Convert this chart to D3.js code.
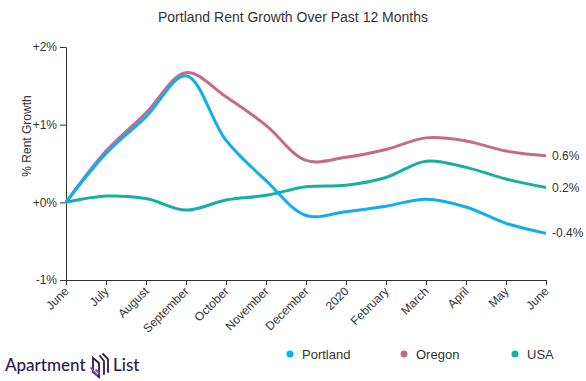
<!DOCTYPE html>
<html><head><meta charset="utf-8">
<script src="https://cdn.jsdelivr.net/npm/d3@7"></script>
<style>body{margin:0;background:#fff}svg{display:block;font-family:"Liberation Sans",Arial,sans-serif}</style>
</head><body><svg id="c" width="586" height="381"></svg>
<script>
const months = ["June","July","August","September","October","November","December","2020","February","March","April","May","June"];
const portland = [0, 0.63, 1.10, 1.63, 0.80, 0.28, -0.17, -0.12, -0.05, 0.04, -0.06, -0.27, -0.40];
const oregon   = [0, 0.66, 1.15, 1.67, 1.36, 0.99, 0.54, 0.58, 0.68, 0.83, 0.79, 0.66, 0.60];
const usa      = [0, 0.08, 0.05, -0.10, 0.03, 0.09, 0.20, 0.22, 0.32, 0.53, 0.45, 0.30, 0.19];
const yTicks = [-1, 0, 1, 2];
const yTickLabels = ["-1%", "+0%", "+1%", "+2%"];
const seriesNames = ["Portland", "Oregon", "USA"];
const endLabels = ["-0.4%", "0.6%", "0.2%"];
const colors = ["#10aef0", "#c36b89", "#14b0a0"];

const svg = d3.select("#c");
const x = d3.scalePoint().domain(d3.range(months.length)).range([66, 546]);
const y = d3.scaleLinear().domain([-1, 2]).range([280, 47]);

svg.append("text").attr("x", 293).attr("y", 22).attr("text-anchor", "middle")
  .attr("font-size", 14).attr("fill", "#333").text("Portland Rent Growth Over Past 12 Months");

const ya = svg.append("g").attr("transform", "translate(66,0)")
  .call(d3.axisLeft(y).tickValues(yTicks).tickFormat((d, i) => yTickLabels[i]).tickSize(6).tickSizeOuter(0));
ya.select(".domain").attr("stroke", "#333");
ya.selectAll("line").attr("stroke", "#333");
ya.selectAll("text").attr("font-size", 12).attr("fill", "#333").attr("font-family", "Liberation Sans, Arial, sans-serif");

const xa = svg.append("g").attr("transform", "translate(0,280)")
  .call(d3.axisBottom(x).tickFormat(i => months[i]).tickSize(5).tickSizeOuter(0));
xa.select(".domain").attr("stroke", "#333");
xa.selectAll("line").attr("stroke", "#333");
xa.selectAll("text").attr("font-size", 12).attr("fill", "#333").attr("font-family", "Liberation Sans, Arial, sans-serif")
  .attr("text-anchor", "end").attr("dy", null).attr("y", 0)
  .attr("transform", "translate(3,12) rotate(-45)");

svg.append("text").attr("transform", "translate(31,136) rotate(-90)").attr("text-anchor", "middle")
  .attr("font-size", 12).attr("fill", "#333").text("% Rent Growth");

const line = d3.line().x((d, i) => x(i)).y(d => y(d)).curve(d3.curveCatmullRom.alpha(0.5));
const data = [portland, oregon, usa];
const order = [2, 1, 0];
order.forEach(k => {
  svg.append("path").attr("d", line(data[k])).attr("fill", "none")
    .attr("stroke", colors[k]).attr("stroke-width", 3);
});
data.forEach((s, k) => {
  svg.append("text").attr("x", 552).attr("y", y(s[s.length - 1]) + 4)
    .attr("font-size", 12).attr("fill", "#333").text(endLabels[k]);
});

const legX = [290, 404, 515];
seriesNames.forEach((n, k) => {
  svg.append("circle").attr("cx", legX[k]).attr("cy", 354).attr("r", 3.5).attr("fill", colors[k]);
  svg.append("text").attr("x", legX[k] + 12).attr("y", 358.5).attr("font-size", 13).attr("fill", "#333").text(n);
});

// Apartment List logo
const lg = svg.append("g").attr("fill", "#2a1a4e");
lg.append("text").attr("x", 5).attr("y", 371).attr("font-size", 17).attr("font-family", "Lato, sans-serif").attr("font-weight", 500).text("Apartment");
lg.append("text").attr("x", 113).attr("y", 371).attr("font-size", 17).attr("font-family", "Lato, sans-serif").attr("font-weight", 500).text("List");
const ic = svg.append("g").attr("fill", "none").attr("stroke-width", 1.8).attr("stroke-linecap", "round");
ic.append("path").attr("d", "M93,358 L93,372 L99,377 L99,363 Z").attr("stroke", "#2a1a4e");
ic.append("path").attr("d", "M96,370 L99,373").attr("stroke", "#8a3ee0");
ic.append("path").attr("d", "M100,356 L104,361 L104,374").attr("stroke", "#2a1a4e");
ic.append("path").attr("d", "M103,354 L108,359 L108,372").attr("stroke", "#2a1a4e");
ic.append("path").attr("d", "M91,368 L97,375").attr("stroke", "#8a3ee0");
</script></body></html>
